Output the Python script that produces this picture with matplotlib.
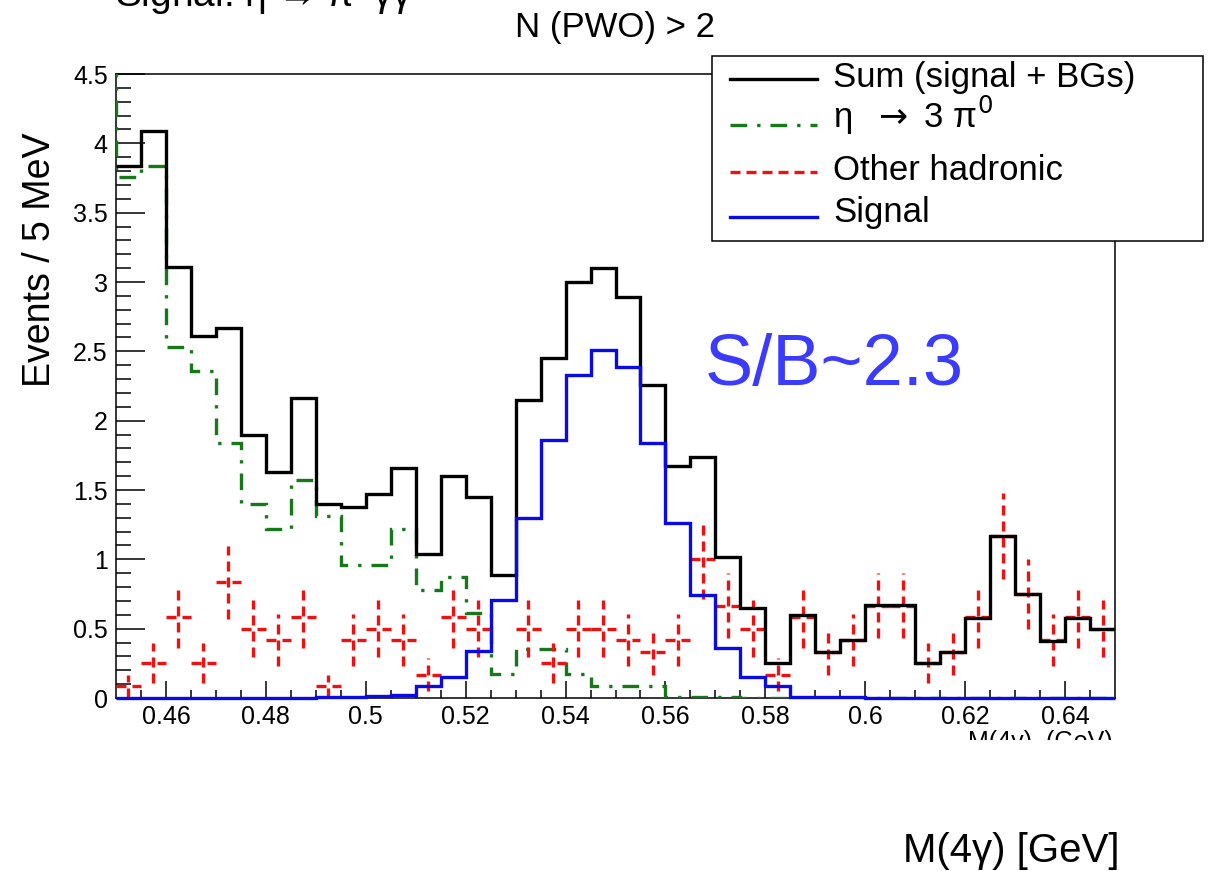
import numpy as np
import matplotlib.pyplot as plt
from matplotlib.patches import Rectangle
from matplotlib.lines import Line2D

plt.rcParams['font.family'] = ['Liberation Sans', 'DejaVu Sans']

# 5 MeV bins between 0.45 and 0.65 GeV
edges = np.linspace(0.45, 0.65, 41)
centers = 0.5 * (edges[:-1] + edges[1:])
# eta -> 3pi0 histogram starts one bin lower (that bin is off scale)
eta_edges = np.linspace(0.445, 0.65, 42)

sum_vals = [3.84, 4.09, 3.11, 2.61, 2.67, 1.90, 1.63, 2.16, 1.40, 1.38,
            1.47, 1.66, 1.04, 1.60, 1.45, 0.89, 2.15, 2.45, 3.00, 3.10,
            2.89, 2.26, 1.67, 1.74, 1.02, 0.65, 0.25, 0.60, 0.33, 0.42,
            0.67, 0.67, 0.25, 0.33, 0.58, 1.17, 0.75, 0.41, 0.58, 0.50]

eta_vals = [5.0,
            3.76, 3.84, 2.53, 2.36, 1.84, 1.40, 1.22, 1.57, 1.31, 0.96,
            0.96, 1.22, 0.78, 0.87, 0.61, 0.17, 0.35, 0.35, 0.17, 0.085,
            0.085, 0.085, 0.004, 0.004, 0.004, 0.003, 0.002, 0.0, 0.0, 0.0,
            0.0, 0.0, 0.0, 0.0, 0.0, 0.0, 0.0, 0.0, 0.0, 0.0]

signal_vals = [0.0, 0.0, 0.0, 0.0, 0.0, 0.0, 0.001, 0.003, 0.005, 0.008,
               0.012, 0.02, 0.085, 0.15, 0.34, 0.71, 1.30, 1.86, 2.33, 2.51,
               2.39, 1.84, 1.26, 0.74, 0.36, 0.15, 0.09, 0.01, 0.008, 0.005,
               0.003, 0.002, 0.001, 0.0, 0.0, 0.0, 0.0, 0.0, 0.0, 0.0]

other_vals = [0.083, 0.25, 0.583, 0.25, 0.833, 0.5, 0.417, 0.583, 0.083, 0.417,
              0.5, 0.417, 0.167, 0.583, 0.5, 0.0, 0.5, 0.25, 0.5, 0.5,
              0.417, 0.333, 0.417, 1.0, 0.667, 0.5, 0.167, 0.583, 0.333, 0.417,
              0.667, 0.667, 0.25, 0.333, 0.583, 1.167, 0.75, 0.417, 0.583, 0.5]
other_errs = [0.083, 0.144, 0.220, 0.144, 0.264, 0.204, 0.186, 0.220, 0.083, 0.186,
              0.204, 0.186, 0.118, 0.220, 0.204, 0.0, 0.204, 0.144, 0.204, 0.204,
              0.186, 0.167, 0.186, 0.289, 0.236, 0.204, 0.118, 0.220, 0.167, 0.186,
              0.236, 0.236, 0.144, 0.167, 0.220, 0.312, 0.25, 0.186, 0.220, 0.204]

x_ticks = [0.46, 0.48, 0.5, 0.52, 0.54, 0.56, 0.58, 0.6, 0.62, 0.64]
x_ticklabels = ['0.46', '0.48', '0.5', '0.52', '0.54', '0.56', '0.58', '0.6', '0.62', '0.64']
y_ticks = [0, 0.5, 1, 1.5, 2, 2.5, 3, 3.5, 4, 4.5]
y_ticklabels = ['0', '0.5', '1', '1.5', '2', '2.5', '3', '3.5', '4', '4.5']

legend_labels = ['Sum (signal + BGs)', r'η  $\rightarrow$ 3 π$^0$', 'Other hadronic', 'Signal']

c_sum = 'black'
c_eta = '#17781a'
c_other = '#ee1111'
c_sig = '#0a0ae6'
ls_eta = (0, (5, 3, 1, 3))
ls_other = (0, (3, 1.8))

W, H = 1209, 871
fig = plt.figure(figsize=(W / 100, H / 100), dpi=100)
ax = fig.add_axes([116 / W, 1 - 698 / H, 999 / W, 624 / H])

lw = 2.4
ax.stairs(sum_vals, edges, color=c_sum, lw=lw, baseline=None, zorder=4)
ax.stairs(eta_vals, eta_edges, color=c_eta, lw=lw, ls=ls_eta, baseline=None, zorder=3)
ax.stairs(signal_vals, edges, color=c_sig, lw=lw, baseline=None, zorder=5, clip_on=False)

ov = np.array(other_vals)
mask = ov > 0
eb = ax.errorbar(centers[mask], ov[mask], xerr=0.0025, yerr=np.array(other_errs)[mask],
                 fmt='none', ecolor=c_other, elinewidth=lw, zorder=3.5)
for coll in eb[2]:
    coll.set_linestyle(ls_other)

ax.set_xlim(0.45, 0.65)
ax.set_ylim(0, 4.5)
ax.set_xticks(x_ticks)
ax.set_xticklabels(x_ticklabels)
ax.set_yticks(y_ticks)
ax.set_yticklabels(y_ticklabels)
ax.set_xticks(np.arange(0.455, 0.65, 0.005), minor=True)
ax.set_yticks(np.arange(0, 4.51, 0.1), minor=True)
ax.tick_params(axis='both', which='both', direction='in', width=1.1, labelsize=18)
ax.tick_params(axis='x', which='major', length=12, pad=5)
ax.tick_params(axis='x', which='minor', length=6)
ax.tick_params(axis='y', which='major', length=21, pad=6)
ax.tick_params(axis='y', which='minor', length=11)
for s in ax.spines.values():
    s.set_linewidth(1.1)

# legend box (ROOT style TLegend, sits over the top right corner of the frame)
fig.add_artist(Rectangle((712 / W, 1 - 241 / H), 491 / W, 185 / H,
                         transform=fig.transFigure, facecolor='white',
                         edgecolor='black', lw=1.1, zorder=10))
leg_styles = [(c_sum, '-'), (c_eta, ls_eta), (c_other, ls_other), (c_sig, '-')]
baselines = [87, 128, 180, 222]
line_y = [79, 125, 172, 217]
for (col, ls), lab, yb, yl in zip(leg_styles, legend_labels, baselines, line_y):
    fig.add_artist(Line2D([730 / W, 817 / W], [1 - yl / H, 1 - yl / H],
                          transform=fig.transFigure, color=col, lw=lw, ls=ls, zorder=11))
    fig.text(833 / W, 1 - yb / H, lab, ha='left', va='baseline', fontsize=25, zorder=11)

ax.text(705 / W, 1 - 385 / H, 'S/B~2.3', transform=fig.transFigure,
        fontsize=52, color='#3b3bff')

fig.text(615 / W, 1 - 28 / H, 'N (PWO) > 2', ha='center', va='center', fontsize=25)
fig.text(115 / W, 1 - 7 / H, 'Signal: η → π$^0$γγ', ha='left', va='baseline', fontsize=28)
fig.text(40 / W, 1 - 260 / H, 'Events / 5 MeV', rotation=90, ha='center', va='center',
         fontsize=27)

# small axis title, cut off by the white area below
fig.text(1113 / W, 1 - 749 / H, 'M(4γ)  (GeV)', ha='right', va='baseline', fontsize=18)
fig.add_artist(Rectangle((0, 0), 1, 1 - 740 / H, transform=fig.transFigure,
                         facecolor='white', edgecolor='none', zorder=20))
fig.text(1011 / W, 1 - 862 / H, 'M(4γ) [GeV]', ha='center', va='baseline',
         fontsize=29, zorder=21)

fig.savefig('out.png', dpi=100)
